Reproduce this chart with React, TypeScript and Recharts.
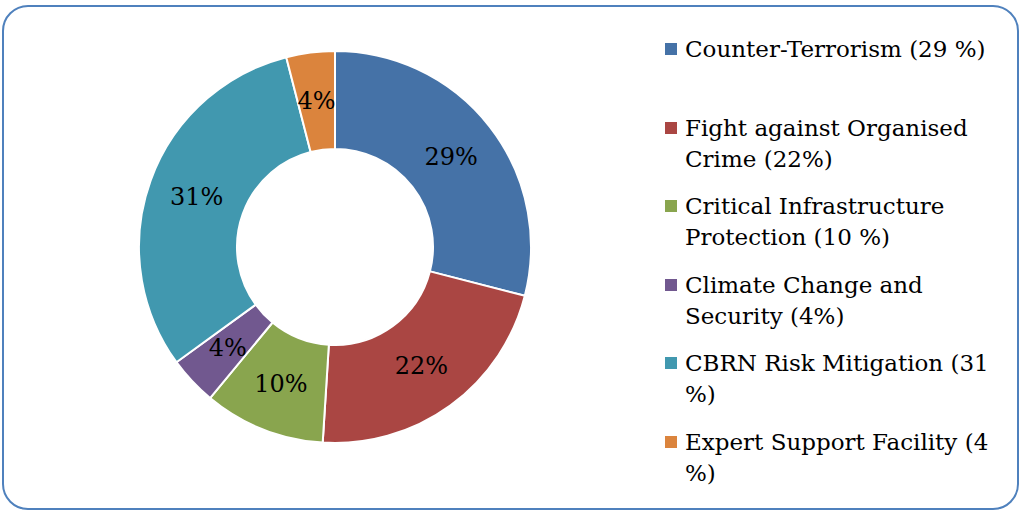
import React from "react";
import { PieChart, Pie, Cell, Legend } from "recharts";

const categories = [
  "Counter-Terrorism",
  "Fight against Organised Crime",
  "Critical Infrastructure Protection",
  "Climate Change and Security",
  "CBRN Risk Mitigation",
  "Expert Support Facility",
];
const values = [29, 22, 10, 4, 31, 4];
const legendLines = [
  ["Counter-Terrorism (29 %)"],
  ["Fight against Organised", "Crime (22%)"],
  ["Critical Infrastructure", "Protection (10 %)"],
  ["Climate Change and", "Security (4%)"],
  ["CBRN Risk Mitigation (31", "%)"],
  ["Expert Support Facility (4", "%)"],
];
const colors = ["#4572A7", "#AA4643", "#89A54E", "#71588F", "#4198AF", "#DB843D"];

const data = categories.map((name, i) => ({ name, value: values[i] }));

const FONT = "'DejaVu Serif', serif";
const RADIAN = Math.PI / 180;

const renderLabel = (props: any) => {
  const { cx, cy, midAngle, innerRadius, outerRadius, value } = props;
  const r = (innerRadius + outerRadius) / 2;
  const x = cx + r * Math.cos(-midAngle * RADIAN);
  const y = cy + r * Math.sin(-midAngle * RADIAN);
  return (
    <text
      x={x}
      y={y}
      textAnchor="middle"
      dominantBaseline="central"
      fontFamily={FONT}
      fontSize={24}
      fill="#000"
    >
      {`${value}%`}
    </text>
  );
};

const renderLegend = () => (
  <div style={{ position: "relative", width: 350, height: 480 }}>
    {legendLines.map((lines, i) => (
      <div
        key={i}
        style={{ position: "absolute", left: 0, top: i * 78.5, fontFamily: FONT, fontSize: 23, lineHeight: "31px", color: "#000" }}
      >
        <div
          style={{ position: "absolute", left: 0, top: 9, width: 12, height: 12, background: colors[i] }}
        />
        <div style={{ marginLeft: 20, whiteSpace: "nowrap" }}>
          {lines.map((l, j) => (
            <div key={j}>{l}</div>
          ))}
        </div>
      </div>
    ))}
  </div>
);

export default function App() {
  return (
    <div style={{ position: "absolute", left: 0, top: 0, width: 1019, height: 510, background: "#fff" }}>
      <div
        style={{
          position: "absolute",
          left: 2,
          top: 5,
          width: 1013,
          height: 501,
          border: "2px solid #4F81BD",
          borderRadius: 26,
        }}
      />
      <PieChart width={1019} height={510} margin={{ top: 0, right: 0, bottom: 0, left: 0 }}>
        <Pie
          data={data}
          dataKey="value"
          nameKey="name"
          cx={335}
          cy={247}
          innerRadius={98}
          outerRadius={196}
          startAngle={90}
          endAngle={-270}
          stroke="#fff"
          strokeWidth={2}
          label={renderLabel}
          labelLine={false}
          isAnimationActive={false}
        >
          {data.map((d, i) => (
            <Cell key={d.name} fill={colors[i]} />
          ))}
        </Pie>
        <Legend
          content={renderLegend}
          wrapperStyle={{ position: "absolute", left: 665, top: 34, width: 350 }}
        />
      </PieChart>
    </div>
  );
}
